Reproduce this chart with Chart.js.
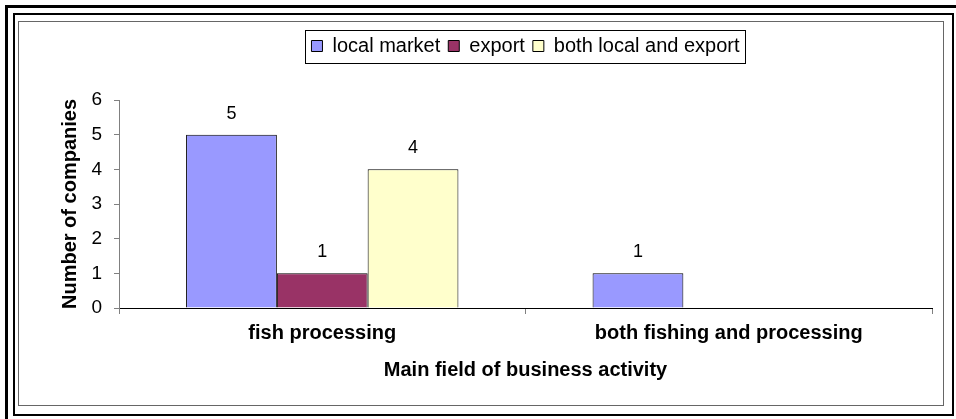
<!DOCTYPE html>
<html>
<head>
<meta charset="utf-8">
<script src="https://cdn.jsdelivr.net/npm/chart.js@4"></script>
<style>
  html, body { margin: 0; padding: 0; background: #fff; }
  body { width: 956px; height: 419px; position: relative; overflow: hidden; }
  .frame { position: absolute; box-sizing: border-box; }
  #outer { left: 5px; top: 5px; width: 1000px; height: 1000px; border: 3px solid #000; }
  #mid { left: 13px; top: 13px; width: 941px; height: 403px; border: 2px solid #000; }
  #inner { left: 18px; top: 21px; width: 926px; height: 385px; border: 1px solid #666; }
  #chart { position: absolute; left: 0; top: 0; }
</style>
</head>
<body>
<div class="frame" id="outer"></div>
<div class="frame" id="mid"></div>
<div class="frame" id="inner"></div>
<canvas id="chart" width="956" height="419"></canvas>
<script>
const categories = ['fish processing', 'both fishing and processing'];
const localMarket = [5, 1];
const exportOnly = [1, null];
const bothLocalExport = [4, null];
const yTicks = [0, 1, 2, 3, 4, 5, 6];

const FONT = "'Liberation Sans', Arial, sans-serif";

// numbers above the bars
const valueLabels = {
  id: 'valueLabels',
  afterDatasetsDraw(chart) {
    const ctx = chart.ctx;
    ctx.save();
    ctx.font = '18px ' + FONT;
    ctx.fillStyle = '#000';
    ctx.textAlign = 'center';
    ctx.textBaseline = 'middle';
    chart.data.datasets.forEach((ds, i) => {
      chart.getDatasetMeta(i).data.forEach((bar, j) => {
        if (ds.data[j] == null) return;
        ctx.fillText(String(ds.data[j]), bar.x, bar.y - 21);
      });
    });
    ctx.restore();
  }
};

// legend sits over the plot, with a box round it
const legendBox = {
  id: 'legendBox',
  beforeInit(chart) {
    const fit = chart.legend.fit;
    chart.legend.fit = function () {
      fit.call(this);
      this.height = 72;
    };
  },
  afterLayout(chart) {
    const a = chart.chartArea;
    chart.legend.left = a.left;
    chart.legend.right = a.right;
  },
  afterDraw(chart) {
    const boxes = chart.legend.legendHitBoxes;
    if (!boxes || !boxes.length) return;
    const l = Math.min(...boxes.map(b => b.left)) - 6;
    const r = Math.max(...boxes.map(b => b.left + b.width)) + 6;
    const ctx = chart.ctx;
    ctx.save();
    ctx.strokeStyle = '#000';
    ctx.lineWidth = 1;
    ctx.strokeRect(Math.round(l) + 0.5, 30.5, Math.round(r - l), 33);
    ctx.restore();
  }
};

new Chart(document.getElementById('chart'), {
  type: 'bar',
  data: {
    labels: categories,
    datasets: [
      { label: 'local market', data: localMarket, backgroundColor: '#9999FF', borderColor: '#000', borderWidth: 1 },
      { label: 'export', data: exportOnly, backgroundColor: '#993366', borderColor: '#000', borderWidth: 1 },
      { label: 'both local and export', data: bothLocalExport, backgroundColor: '#FFFFCC', borderColor: '#000', borderWidth: 1 }
    ]
  },
  options: {
    responsive: false,
    animation: false,
    devicePixelRatio: 1,
    layout: { padding: { left: 20, right: 24, top: 28, bottom: 31 } },
    datasets: { bar: { barPercentage: 1, categoryPercentage: 0.67 } },
    plugins: {
      legend: {
        position: 'top',
        labels: {
          font: { family: FONT, size: 20 },
          color: '#000',
          boxWidth: 11,
          boxHeight: 11,
          padding: 8
        }
      },
      tooltip: { enabled: false }
    },
    scales: {
      x: {
        afterFit: s => { s.height = 80; },
        grid: { display: true, drawOnChartArea: false, offset: true, tickLength: 6, color: '#808080' },
        border: { color: '#000', width: 1 },
        ticks: { font: { family: FONT, size: 20, weight: 'bold' }, color: '#000', padding: 7, maxRotation: 0 },
        title: {
          display: true,
          text: 'Main field of business activity',
          font: { family: FONT, size: 20, weight: 'bold' },
          color: '#000',
          padding: { bottom: 6 }
        }
      },
      y: {
        min: 0,
        max: 6,
        afterFit: s => { s.width = 99; },
        afterBuildTicks: s => { s.ticks = yTicks.map(v => ({ value: v })); },
        grid: { display: true, drawOnChartArea: false, tickLength: 5, color: '#808080' },
        border: { color: '#808080', width: 1 },
        ticks: { font: { family: FONT, size: 19 }, color: '#000', padding: 12 },
        title: {
          display: true,
          text: 'Number of companies',
          font: { family: FONT, size: 20, weight: 'bold' },
          color: '#000',
          padding: { top: 38 }
        }
      }
    }
  },
  plugins: [valueLabels, legendBox]
});
</script>
</body>
</html>
